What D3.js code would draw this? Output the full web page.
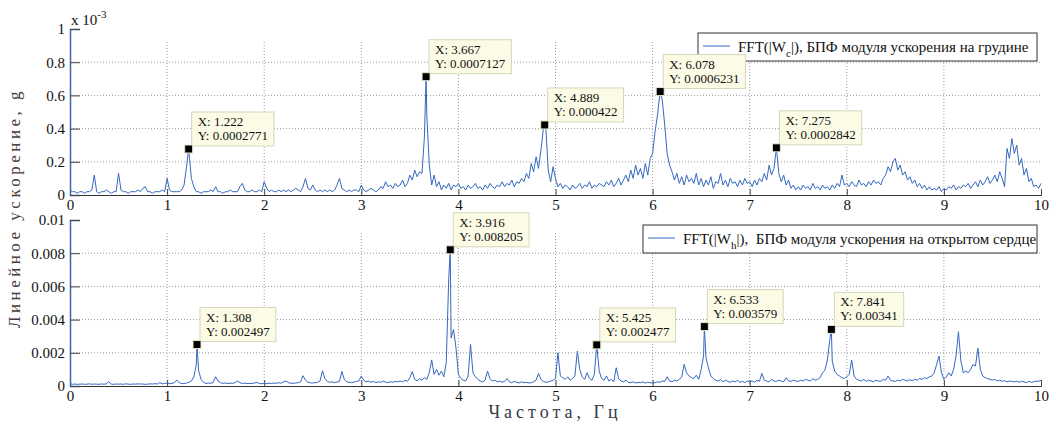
<!DOCTYPE html>
<html>
<head>
<meta charset="utf-8">
<script src="https://cdn.jsdelivr.net/npm/d3@7"></script>
<style>
  body { margin: 0; background: #fff; }
  svg { display: block; }
  svg text { font-family: "Liberation Serif", "Times New Roman", Tinos, "DejaVu Serif", serif; }
  .tick text { font-size: 15px; fill: #111; }
</style>
</head>
<body>
<svg id="chart" width="1049" height="421"></svg>
<script>
// частотная сетка: шаг 0.025 Гц, 0..10 Гц
var freqStep = 0.025;

// грудина, значения в 1e-3 g
var chestValues = [
  0.03,0.02,0.02,0.01,0.02,0.02,0.01,0.02,0.02,0.03,0.12,0.02,0.01,0.02,0.02,0.03,0.02,0.01,0.02,0.02,
  0.13,0.03,0.02,0.02,0.01,0.02,0.02,0.02,0.03,0.02,0.04,0.05,0.02,0.02,0.01,0.02,0.02,0.02,0.03,0.02,
  0.10,0.03,0.02,0.02,0.02,0.02,0.03,0.06,0.17,0.12,0.10,0.05,0.02,0.02,0.01,0.02,0.02,0.02,0.03,0.02,
  0.05,0.02,0.02,0.01,0.02,0.02,0.03,0.02,0.02,0.02,0.05,0.07,0.03,0.02,0.02,0.03,0.02,0.02,0.03,0.02,
  0.08,0.04,0.02,0.03,0.02,0.02,0.03,0.02,0.03,0.02,0.03,0.02,0.03,0.04,0.03,0.02,0.05,0.10,0.04,0.03,
  0.06,0.03,0.02,0.03,0.02,0.03,0.02,0.03,0.02,0.03,0.06,0.10,0.04,0.03,0.02,0.03,0.02,0.03,0.03,0.02,
  0.06,0.03,0.02,0.03,0.04,0.03,0.02,0.03,0.05,0.04,0.08,0.05,0.06,0.04,0.07,0.05,0.06,0.09,0.05,0.07,
  0.12,0.09,0.15,0.11,0.14,0.13,0.35,0.48,0.18,0.06,0.12,0.05,0.08,0.03,0.06,0.04,0.07,0.03,0.06,0.05,
  0.07,0.04,0.05,0.03,0.06,0.04,0.05,0.07,0.04,0.05,0.03,0.06,0.04,0.07,0.05,0.04,0.06,0.05,0.08,0.05,
  0.07,0.06,0.09,0.05,0.08,0.07,0.10,0.08,0.13,0.10,0.19,0.14,0.23,0.16,0.27,0.40,0.41,0.15,0.08,0.17,
  0.10,0.05,0.07,0.04,0.06,0.05,0.03,0.06,0.04,0.05,0.07,0.04,0.06,0.05,0.08,0.04,0.06,0.05,0.07,0.06,
  0.05,0.08,0.06,0.09,0.05,0.07,0.10,0.06,0.09,0.12,0.08,0.15,0.10,0.18,0.12,0.16,0.10,0.19,0.12,0.22,
  0.25,0.38,0.48,0.30,0.57,0.42,0.25,0.18,0.14,0.09,0.13,0.07,0.11,0.06,0.12,0.08,0.10,0.07,0.13,0.06,
  0.10,0.05,0.09,0.06,0.11,0.04,0.08,0.07,0.13,0.06,0.09,0.05,0.10,0.07,0.08,0.05,0.09,0.06,0.10,0.07,
  0.08,0.05,0.09,0.06,0.10,0.08,0.13,0.09,0.18,0.12,0.16,0.20,0.13,0.08,0.12,0.06,0.09,0.04,0.06,0.03,
  0.05,0.03,0.06,0.04,0.05,0.03,0.07,0.04,0.05,0.03,0.06,0.04,0.05,0.03,0.06,0.04,0.07,0.05,0.12,0.06,
  0.07,0.05,0.08,0.06,0.05,0.09,0.06,0.07,0.05,0.08,0.06,0.09,0.07,0.08,0.06,0.10,0.12,0.17,0.14,0.20,
  0.22,0.15,0.18,0.12,0.14,0.09,0.11,0.07,0.09,0.05,0.07,0.04,0.06,0.03,0.05,0.03,0.04,0.03,0.05,0.02,
  0.04,0.03,0.05,0.04,0.06,0.03,0.05,0.04,0.06,0.05,0.07,0.04,0.06,0.08,0.05,0.09,0.06,0.08,0.11,0.07,
  0.09,0.12,0.08,0.14,0.10,0.05,0.28,0.22,0.34,0.25,0.30,0.18,0.22,0.12,0.16,0.08,0.10,0.05,0.06,0.04,
  0.07
];

// открытое сердце, значения в 1e-3 g
var heartValues = [
  0.15,0.10,0.12,0.10,0.11,0.12,0.10,0.11,0.13,0.10,0.12,0.11,0.10,0.12,0.11,0.13,0.26,0.11,0.10,0.12,
  0.11,0.12,0.10,0.13,0.11,0.10,0.12,0.11,0.13,0.12,0.12,0.10,0.11,0.13,0.12,0.14,0.12,0.20,0.13,0.15,
  0.18,0.14,0.16,0.20,0.36,0.20,0.15,0.14,0.18,0.22,0.30,0.55,1.25,0.90,0.40,0.22,0.15,0.18,0.16,0.22,
  0.56,0.30,0.20,0.16,0.18,0.15,0.17,0.16,0.20,0.30,0.20,0.15,0.17,0.14,0.16,0.15,0.18,0.22,0.15,0.14,
  0.16,0.14,0.17,0.15,0.18,0.16,0.20,0.17,0.25,0.30,0.20,0.17,0.16,0.18,0.20,0.25,0.62,0.35,0.22,0.19,
  0.18,0.20,0.22,0.30,0.92,0.45,0.28,0.22,0.25,0.20,0.24,0.28,0.88,0.40,0.25,0.22,0.20,0.24,0.28,0.30,
  0.60,0.35,0.25,0.30,0.22,0.28,0.20,0.25,0.22,0.30,0.24,0.20,0.26,0.22,0.28,0.25,0.30,0.24,0.35,0.28,
  0.50,0.87,0.40,0.30,0.45,0.35,0.50,0.40,0.80,1.57,0.70,1.00,0.65,0.90,0.55,1.40,6.40,2.90,3.40,2.30,
  0.70,0.45,0.35,0.30,0.60,2.50,0.80,0.55,0.40,0.30,0.25,0.35,0.90,0.45,0.30,0.35,0.25,0.30,0.22,0.28,
  0.45,0.25,0.20,0.28,0.22,0.18,0.25,0.20,0.22,0.18,0.20,0.25,0.35,0.76,0.40,0.28,0.22,0.25,0.30,0.35,
  0.45,2.00,0.60,0.50,0.40,0.55,0.35,0.45,0.60,2.10,1.00,0.55,0.40,0.80,0.45,0.35,0.70,1.20,0.90,0.45,
  0.35,0.60,0.30,0.40,0.25,1.10,0.45,0.30,0.25,0.35,0.22,0.20,0.25,0.18,0.22,0.20,0.25,0.18,0.22,0.20,
  0.18,0.20,0.25,0.22,0.30,0.28,0.56,0.30,0.25,0.35,0.30,0.40,0.55,1.30,0.80,0.60,0.50,0.45,0.65,0.40,
  1.00,1.80,1.70,1.10,0.60,0.45,0.35,0.30,0.40,0.25,0.35,0.28,0.22,0.30,0.25,0.35,0.22,0.28,0.20,0.30,
  0.25,0.30,0.22,0.35,0.28,0.76,0.35,0.30,0.25,0.40,0.30,0.28,0.35,0.30,0.25,0.50,0.30,0.28,0.35,0.30,
  0.28,0.35,0.30,0.40,0.35,0.30,0.45,0.35,0.40,0.50,0.80,0.96,1.57,2.80,1.50,0.90,0.70,0.60,0.50,0.45,
  0.55,0.70,1.57,0.60,0.40,0.35,0.30,0.40,0.28,0.35,0.30,0.25,0.35,0.30,0.28,0.40,0.35,0.60,0.35,0.30,
  0.28,0.35,0.30,0.40,0.35,0.30,0.38,0.32,0.40,0.35,0.45,0.40,0.50,0.45,0.55,0.60,0.80,1.30,1.80,0.80,
  0.40,0.55,0.80,0.60,1.00,1.80,3.27,1.50,0.80,0.90,0.80,1.00,1.30,1.20,2.27,1.00,0.60,0.50,0.45,0.40,
  0.35,0.40,0.30,0.35,0.28,0.32,0.25,0.30,0.28,0.25,0.30,0.22,0.28,0.25,0.20,0.28,0.22,0.25,0.30,0.28,
  0.35
];

// подписи данных (X, Гц; Y, g)
var chestPeaks = [[1.222, 0.0002771], [3.667, 0.0007127], [4.889, 0.000422], [6.078, 0.0006231], [7.275, 0.0002842]];
var heartPeaks = [[1.308, 0.002497], [3.916, 0.008205], [5.425, 0.002477], [6.533, 0.003579], [7.841, 0.00341]];

var xTicks = [0, 1, 2, 3, 4, 5, 6, 7, 8, 9, 10];
var chestTicks = [0, 0.2, 0.4, 0.6, 0.8, 1];           // x 10^-3
var heartTicks = [0, 0.002, 0.004, 0.006, 0.008, 0.01];

var lineColor = '#3568bf';
var serif = '"Liberation Serif", "Times New Roman", Tinos, "DejaVu Serif", serif';

var svg = d3.select('#chart');
var left = 70, right = 1041;

var x = d3.scaleLinear().domain([0, 10]).range([left, right]);

// объединяем сетку и точки подписей (значения в g)
function merge(values, peaks) {
  var pts = values.map(function(v, i) { return [i * freqStep, v * 1e-3]; })
    .filter(function(p) { return !peaks.some(function(q) { return Math.abs(q[0] - p[0]) < 0.005; }); });
  return pts.concat(peaks).sort(function(a, b) { return a[0] - b[0]; });
}

function panel(opt) {
  var y = d3.scaleLinear().domain(opt.domain).range([opt.bottom, opt.top]);
  var g = svg.append('g');

  // сетка
  g.append('g').selectAll('line').data(xTicks.slice(1, -1)).enter().append('line')
    .attr('x1', x).attr('x2', x)
    .attr('y1', opt.top + 13).attr('y2', opt.bottom)
    .attr('stroke', '#9a9a9a').attr('stroke-dasharray', '1,2');
  g.append('g').selectAll('line').data(opt.ticks.slice(1, -1)).enter().append('line')
    .attr('x1', left).attr('x2', right)
    .attr('y1', y).attr('y2', y)
    .attr('stroke', '#9a9a9a').attr('stroke-dasharray', '1,2');

  // оси
  var xa = g.append('g').attr('transform', 'translate(0,' + opt.bottom + ')')
    .call(d3.axisBottom(x).tickValues(xTicks).tickSize(-6).tickPadding(4).tickFormat(d3.format('d')))
    .attr('font-family', serif).attr('font-size', 15);
  xa.select('.domain').attr('stroke', '#333');
  xa.selectAll('.tick line').attr('stroke', '#444');

  var ya = g.append('g').attr('transform', 'translate(' + left + ',0)')
    .call(d3.axisLeft(y).tickValues(opt.ticks).tickSize(-10).tickPadding(5).tickFormat(opt.format))
    .attr('font-family', serif).attr('font-size', 15);
  ya.select('.domain').attr('stroke', '#3d63a8').attr('stroke-width', 1.5);
  ya.selectAll('.tick line').attr('stroke', '#444');

  // кривая
  var line = d3.line().x(function(d) { return x(d[0]); }).y(function(d) { return y(d[1] / opt.unit); });
  g.append('path').datum(merge(opt.values, opt.peaks))
    .attr('d', line).attr('fill', 'none')
    .attr('stroke', lineColor).attr('stroke-width', 1).attr('stroke-linejoin', 'round');

  // легенда
  var lg = g.append('g');
  lg.append('rect').attr('x', opt.legend[0]).attr('y', opt.legend[1])
    .attr('width', right - 4 - opt.legend[0]).attr('height', 28)
    .attr('fill', '#fff').attr('stroke', '#333');
  lg.append('line').attr('x1', opt.legend[0] + 5).attr('x2', opt.legend[0] + 32)
    .attr('y1', opt.legend[1] + 13).attr('y2', opt.legend[1] + 13)
    .attr('stroke', lineColor);
  var lt = lg.append('text').attr('x', opt.legend[0] + 40).attr('y', opt.legend[1] + 19)
    .attr('font-size', 15).attr('fill', '#111').style('white-space', 'pre');
  lt.append('tspan').text('FFT(|W');
  lt.append('tspan').attr('dy', 5).attr('font-size', 11).text(opt.sub);
  lt.append('tspan').attr('dy', -5).text(opt.legendText);

  // подписи данных
  opt.peaks.forEach(function(p) {
    var px = x(p[0]), py = y(p[1] / opt.unit);
    var tip = g.append('g');
    var box = tip.append('rect').attr('fill', '#fbfbe6').attr('stroke', '#d6d6bc');
    var t1 = tip.append('text').attr('font-size', 13).attr('fill', '#111').text('X: ' + p[0]);
    var t2 = tip.append('text').attr('font-size', 13).attr('fill', '#111').text('Y: ' + p[1]);
    var w = Math.max(t1.node().getComputedTextLength(), t2.node().getComputedTextLength()) + 12;
    var bx = px + 3, by = py - 3 - 34;
    box.attr('x', bx).attr('y', by).attr('width', w).attr('height', 34);
    t1.attr('x', bx + 6).attr('y', by + 14);
    t2.attr('x', bx + 6).attr('y', by + 28);
    tip.append('rect').attr('x', px - 4).attr('y', py - 4).attr('width', 8).attr('height', 8)
      .attr('fill', '#000').attr('stroke', '#e8e8d0').attr('stroke-width', 1);
  });
}

panel({
  top: 29, bottom: 195, domain: [0, 1], ticks: chestTicks, unit: 1e-3,
  format: d3.format('~g'), values: chestValues, peaks: chestPeaks,
  legend: [698, 33], sub: 'c', legendText: '|), БПФ модуля ускорения на грудине'
});

panel({
  top: 220, bottom: 386, domain: [0, 0.01], ticks: heartTicks, unit: 1,
  format: function(d) { return d === 0 ? '0' : String(+d.toFixed(3)); },
  values: heartValues, peaks: heartPeaks,
  legend: [643, 225], sub: 'h', legendText: '|),  БПФ модуля ускорения на открытом сердце'
});

// множитель x 10^-3
var mult = svg.append('text').attr('x', 71).attr('y', 25).attr('font-size', 15).attr('fill', '#111');
mult.append('tspan').text('x 10');
mult.append('tspan').attr('dy', -7).attr('font-size', 11).text('-3');

// подписи осей
svg.append('text').attr('transform', 'translate(20,208) rotate(-90)')
  .attr('text-anchor', 'middle').attr('font-size', 17).attr('letter-spacing', 3.5)
  .attr('fill', '#4a3a3a').text('Линейное ускорение, g');
svg.append('text').attr('x', 555).attr('y', 418)
  .attr('text-anchor', 'middle').attr('font-size', 18).attr('letter-spacing', 4)
  .attr('fill', '#333a4a').text('Частота, Гц');
</script>
</body>
</html>
